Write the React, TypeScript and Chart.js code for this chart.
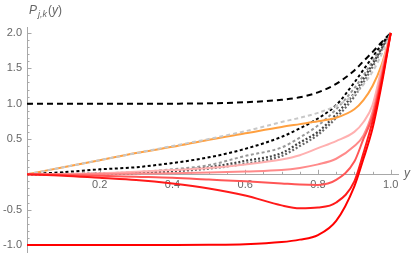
import React, { useEffect, useRef } from "react";
import { Chart, registerables } from "chart.js";

Chart.register(...registerables);

// sample positions along y (horizontal axis)
const yPositions = [0, 0.1, 0.2, 0.3, 0.4, 0.5, 0.6, 0.7, 0.75, 0.8, 0.85, 0.9, 0.925, 0.95, 0.975, 1];

// series values
const blackLongDash = [1, 1, 1, 1, 1, 1.005, 1.02, 1.055, 1.09, 1.16, 1.28, 1.47, 1.6, 1.73, 1.87, 2];
const orangeSolid = [0, 0.1, 0.2, 0.3, 0.39, 0.49, 0.58, 0.67, 0.71, 0.75, 0.8, 0.92, 1.05, 1.25, 1.55, 2];
const lightGrayDash = [0, 0.1, 0.2, 0.3, 0.4, 0.5, 0.61, 0.74, 0.8, 0.87, 0.97, 1.13, 1.27, 1.45, 1.7, 2];
const blackShortDash = [0, 0.03, 0.07, 0.1, 0.16, 0.24, 0.36, 0.53, 0.65, 0.79, 0.98, 1.3, 1.48, 1.66, 1.84, 2];
const grayDash = [0, 0.005, 0.015, 0.03, 0.07, 0.13, 0.26, 0.38, 0.52, 0.69, 0.92, 1.22, 1.4, 1.6, 1.8, 2];
const darkDotted = [0, 0, 0.01, 0.02, 0.05, 0.1, 0.19, 0.3, 0.45, 0.6, 0.85, 1.15, 1.35, 1.56, 1.78, 2];
const midDotted = [0, 0, 0.005, 0.015, 0.04, 0.08, 0.15, 0.26, 0.4, 0.56, 0.8, 1.1, 1.3, 1.52, 1.76, 2];
const pinkLight = [0, 0.005, 0.015, 0.035, 0.06, 0.09, 0.14, 0.21, 0.27, 0.37, 0.47, 0.6, 0.74, 0.98, 1.5, 2];
const pinkMedium = [0, 0, 0.005, 0.01, 0.015, 0.025, 0.04, 0.06, 0.09, 0.14, 0.22, 0.4, 0.55, 0.88, 1.42, 2];
const redLight = [0, -0.01, -0.02, -0.035, -0.05, -0.075, -0.1, -0.13, -0.145, -0.15, -0.08, 0.18, 0.5, 0.82, 1.38, 2];
const redDip = [0, -0.02, -0.05, -0.08, -0.13, -0.2, -0.3, -0.44, -0.48, -0.47, -0.4, -0.1, 0.3, 0.75, 1.32, 2];
const redBottom = [-1, -1, -1, -1, -1, -0.998, -0.99, -0.96, -0.925, -0.86, -0.66, -0.17, 0.22, 0.65, 1.27, 2];

const xTickValues = [0.2, 0.4, 0.6, 0.8, 1.0];
const xTickLabels = ["0.2", "0.4", "0.6", "0.8", "1.0"];
const yTickValues = [-1.0, -0.5, 0.5, 1.0, 1.5, 2.0];
const yTickLabels = ["-1.0", "-0.5", "0.5", "1.0", "1.5", "2.0"];

const FONT = "'Liberation Sans', Arial, sans-serif";

const toPoints = (vals: number[]) => vals.map((v, i) => ({ x: yPositions[i], y: v }));

const axisDecor = {
  id: "axisDecor",
  beforeDatasetsDraw(chart: any) {
    const { ctx, scales } = chart;
    const xs = scales.x;
    const ys = scales.y;
    const x0 = xs.getPixelForValue(0);
    const y0 = ys.getPixelForValue(0);
    ctx.save();
    ctx.strokeStyle = "#a8a8a8";
    ctx.lineWidth = 1;
    ctx.beginPath();
    for (let i = 1; i <= 20; i++) {
      const px = Math.round(xs.getPixelForValue(i * 0.05)) + 0.5;
      const len = i % 4 === 0 ? 4.5 : 2.5;
      ctx.moveTo(px, y0);
      ctx.lineTo(px, y0 - len);
    }
    for (let i = -10; i <= 20; i++) {
      if (i === 0) continue;
      const py = Math.round(ys.getPixelForValue(i / 10)) + 0.5;
      const len = i % 5 === 0 ? 4.5 : 2.5;
      ctx.moveTo(x0, py);
      ctx.lineTo(x0 + len, py);
    }
    ctx.stroke();

    // tick labels
    ctx.fillStyle = "#666";
    ctx.font = `11px ${FONT}`;
    ctx.textAlign = "right";
    ctx.textBaseline = "middle";
    yTickValues.forEach((v, i) => {
      ctx.fillText(yTickLabels[i], x0 - 5, ys.getPixelForValue(v));
    });
    ctx.textAlign = "center";
    ctx.textBaseline = "top";
    xTickValues.forEach((v, i) => {
      ctx.fillText(xTickLabels[i], xs.getPixelForValue(v), y0 + 5);
    });
    ctx.restore();
  },
  afterDraw(chart: any) {
    const { ctx, chartArea } = chart;
    const ys = chart.scales.y;
    ctx.save();
    ctx.fillStyle = "#666";
    ctx.textBaseline = "alphabetic";
    // y-axis label P_{j,k}(y)
    let cx = chartArea.left + 2;
    const by = 14;
    ctx.font = `italic 12px ${FONT}`;
    ctx.fillText("P", cx, by);
    cx += ctx.measureText("P").width + 1;
    ctx.font = `italic 9px ${FONT}`;
    ctx.fillText("j,k", cx, by + 3);
    cx += ctx.measureText("j,k").width + 1;
    ctx.font = `12px ${FONT}`;
    ctx.fillText("(", cx, by);
    cx += ctx.measureText("(").width;
    ctx.font = `italic 12px ${FONT}`;
    ctx.fillText("y", cx, by);
    cx += ctx.measureText("y").width;
    ctx.font = `12px ${FONT}`;
    ctx.fillText(")", cx, by);
    // x-axis label y
    ctx.font = `italic 12px ${FONT}`;
    ctx.textBaseline = "middle";
    ctx.fillText("y", chartArea.right + 6, ys.getPixelForValue(0) - 1);
    ctx.restore();
  },
};

export default function App() {
  const canvasRef = useRef<HTMLCanvasElement | null>(null);

  useEffect(() => {
    document.body.style.margin = "0";
    const canvas = canvasRef.current;
    if (!canvas) return;

    const mk = (label: string, data: number[], color: string, width: number, dash: number[] = []) => ({
      label,
      data: toPoints(data),
      borderColor: color,
      backgroundColor: color,
      borderWidth: width,
      borderDash: dash,
      pointRadius: 0,
      fill: false,
      cubicInterpolationMode: "monotone" as const,
      borderCapStyle: "butt" as const,
    });

    // first dataset is drawn on top
    const datasets = [
      mk("redBottom", redBottom, "#ff0000", 2),
      mk("redDip", redDip, "#ff1a1a", 2),
      mk("redLight", redLight, "#ff5656", 2),
      mk("pinkMedium", pinkMedium, "#ff8a8a", 2),
      mk("pinkLight", pinkLight, "#ffb0b0", 2),
      mk("lightGrayDash", lightGrayDash, "#c8c8c8", 2, [4, 3]),
      mk("orangeSolid", orangeSolid, "#ffa040", 2),
      mk("blackShortDash", blackShortDash, "#000000", 2, [3, 2.5]),
      mk("darkDotted", darkDotted, "#444444", 2.2, [2, 2]),
      mk("midDotted", midDotted, "#6a6a6a", 2.2, [2, 2]),
      mk("grayDash", grayDash, "#999999", 2, [3, 2.5]),
      mk("blackLongDash", blackLongDash, "#000000", 2, [6, 4]),
    ];

    const chart = new Chart(canvas, {
      type: "line",
      data: { datasets },
      plugins: [axisDecor],
      options: {
        animation: false,
        responsive: false,
        maintainAspectRatio: false,
        layout: { padding: { left: 0, right: 17, top: 27, bottom: 5 } },
        plugins: { legend: { display: false }, tooltip: { enabled: false } },
        scales: {
          x: {
            type: "linear",
            position: { y: 0 } as any,
            min: 0,
            max: 1.02,
            grid: { display: false, drawOnChartArea: false, drawTicks: false },
            border: { display: true, color: "#a8a8a8", width: 1 },
            ticks: { display: false },
          },
          y: {
            type: "linear",
            position: "left",
            min: -1.1,
            max: 2.085,
            afterFit: (scale: any) => {
              scale.width = 27;
            },
            grid: { display: false, drawOnChartArea: false, drawTicks: false },
            border: { display: true, color: "#a8a8a8", width: 1 },
            ticks: { display: false },
          },
        },
      },
    });

    return () => chart.destroy();
  }, []);

  return <canvas ref={canvasRef} width={415} height={257} style={{ display: "block" }} />;
}
